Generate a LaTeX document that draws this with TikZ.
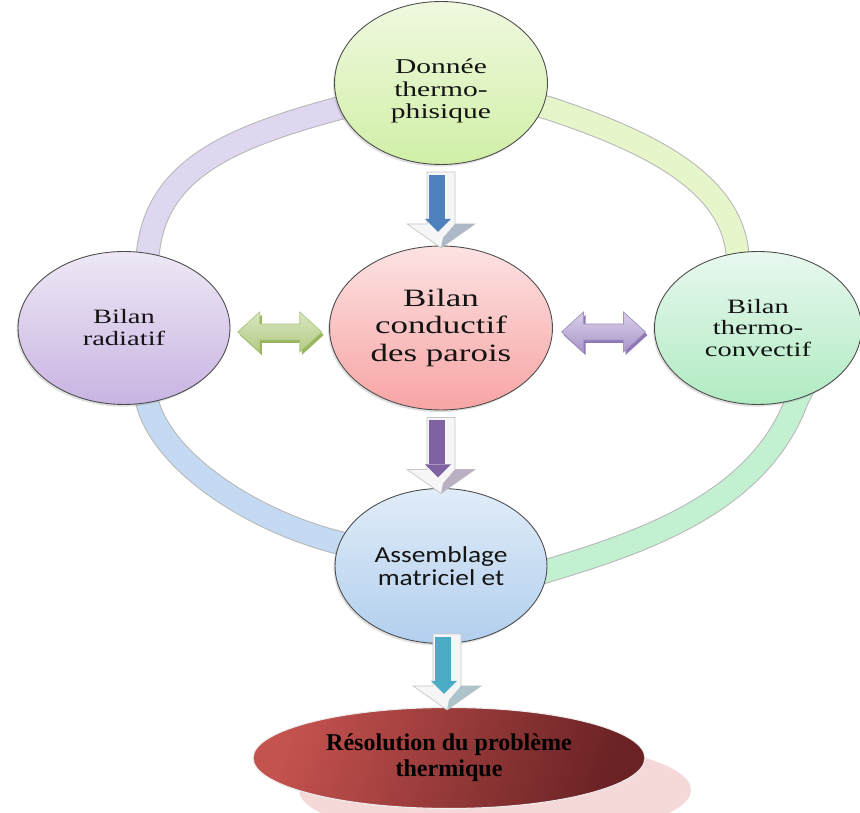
\documentclass[tikz,border=0pt]{standalone}
\usepackage{fontspec}
\setmainfont{Liberation Serif}
\newfontfamily\wideserif[FakeStretch=1.4]{Liberation Serif}
\newfontfamily\widesans[FakeStretch=1.2]{Carlito}
\usetikzlibrary{shapes.geometric,shadows,calc}

% fills of the bubbles
\definecolor{donA}{HTML}{F0F9E0}\definecolor{donB}{HTML}{D0EFA6}
\definecolor{conA}{HTML}{FDE2E2}\definecolor{conB}{HTML}{F8A4A4}
\definecolor{radA}{HTML}{EEE8F6}\definecolor{radB}{HTML}{C8B4E2}
\definecolor{cvA}{HTML}{E8F8EF}\definecolor{cvB}{HTML}{B0EBC2}
\definecolor{asA}{HTML}{E0ECF8}\definecolor{asB}{HTML}{B2CFEE}
\definecolor{resA}{HTML}{C4524F}\definecolor{resB}{HTML}{6A2224}
\definecolor{resShadow}{HTML}{F5D9D9}
% ring segments
\definecolor{ringTL}{HTML}{DFD6EF}\definecolor{ringTR}{HTML}{E6F6CA}
\definecolor{ringBL}{HTML}{C3DAF2}\definecolor{ringBR}{HTML}{C4F0D2}
% block arrows
\definecolor{blockblue}{HTML}{4F81BD}\definecolor{blockpurple}{HTML}{7F62A1}
\definecolor{blockteal}{HTML}{4BACC6}
\definecolor{dgA}{HTML}{D9E6C2}\definecolor{dgB}{HTML}{B3CB83}\definecolor{dgC}{HTML}{98B65C}
\definecolor{dpA}{HTML}{D8CFE7}\definecolor{dpB}{HTML}{AA97CB}\definecolor{dpC}{HTML}{8E78B5}
\definecolor{txt}{HTML}{141414}

\tikzset{
  bubble/.style={ellipse, draw=black!70, line width=0.5pt, inner sep=0pt,
    align=center, text=txt,
    drop shadow={opacity=0.25, shadow xshift=-0.8pt, shadow yshift=-1.2pt}},
  ringshade/.style={line width=13.6pt, draw=black!28},
  ringband/.style={line width=12.4pt},
  pics/downblock/.style={code={
    \filldraw[fill=white!93!gray, draw=black!22, line width=0.4pt]
      (-14,0) -- (14,0) -- (14,52) -- (34,52) -- (0,76) -- (-34,52) -- (-14,52) -- cycle;
    \fill[#1!45!gray!55] (14,52) -- (34,52) -- (0,76) -- (2,66) -- cycle;
    \fill[#1] (-12,3) rectangle (4,47);
    \fill[#1] (-16,47) -- (10,47) -- (-3,60) -- cycle;
  }},
  pics/dblock/.style n args={3}{code={
    \fill[#3] (-40,3) -- (-18,-17) -- (-18,-5) -- (22,-5) -- (22,-17) -- (44,3)
      -- (22,23) -- (22,11) -- (-18,11) -- (-18,23) -- cycle;
    \shadedraw[top color=#1, bottom color=#2, draw=#3!80, line width=0.4pt]
      (-42,0) -- (-20,-20) -- (-20,-8) -- (20,-8) -- (20,-20) -- (42,0)
      -- (20,20) -- (20,8) -- (-20,8) -- (-20,20) -- cycle;
  }}
}

\begin{document}
\begin{tikzpicture}[x=0.02cm,y=-0.02cm]
\useasboundingbox (0,0) rectangle (860,813);
\clip (0,0) rectangle (860,813);

% ring joining the four outer bubbles (ends hidden under the bubbles)
\def\arcTL{(362,102.5) -- (340,108) .. controls (228,138) and (157,170) .. (148,252) -- (145,272)}
\def\arcTR{(526,102.5) -- (548,108) .. controls (645,140) and (728,180) .. (737,250) -- (740,272)}
\def\arcBL{(142,385) -- (148,405) .. controls (166,465) and (255,522) .. (340,543) -- (362,549)}
\def\arcBR{(806,382) -- (797,400) .. controls (760,500) and (650,540) .. (550,570) -- (528,577)}
\draw[ringshade] \arcTL;  \draw[ringband,ringTL] \arcTL;
\draw[ringshade] \arcTR;  \draw[ringband,ringTR] \arcTR;
\draw[ringshade] \arcBL;  \draw[ringband,ringBL] \arcBL;
\draw[ringshade] \arcBR;  \draw[ringband,ringBR] \arcBR;

% bubbles
\node[bubble, top color=donA, bottom color=donB, minimum width=4.26cm, minimum height=3.26cm,
  font=\wideserif\fontsize{12}{12.6}\selectfont] (donnee) at (441,83)
  {\rule{0pt}{17.5pt}Donnée\\thermo-\\phisique};
\node[bubble, top color=conA, bottom color=conB, minimum width=4.46cm, minimum height=3.28cm,
  font=\wideserif\fontsize{14.2}{15.4}\selectfont] (cond) at (441,328) {Bilan\\conductif\\des parois};
\node[bubble, top color=radA, bottom color=radB, minimum width=4.24cm, minimum height=3.06cm,
  font=\wideserif\fontsize{11.6}{12.5}\selectfont] (radiatif) at (124,328) {Bilan\\radiatif};
\node[bubble, top color=cvA, bottom color=cvB, minimum width=4.14cm, minimum height=3.06cm,
  font=\wideserif\fontsize{11.6}{12.5}\selectfont] (convectif) at (758,328) {Bilan\\thermo-\\convectif};
\node[bubble, top color=asA, bottom color=asB, minimum width=4.24cm, minimum height=3.1cm,
  font=\widesans\fontsize{13}{12.8}\selectfont] (assemblage) at (441,566) {Assemblage\\matriciel et};

% final step with its soft shadow
\fill[resShadow] (495,790) ellipse [x radius=196, y radius=50];
\node[ellipse, inner sep=0pt, minimum width=7.84cm, minimum height=2.02cm,
  left color=resA, right color=resB, shading angle=70, draw=white!85!gray, line width=0.6pt,
  align=center, font=\bfseries\fontsize{13.7}{14.8}\selectfont, text=black]
  (resolution) at (449,758) {Résolution du problème\\thermique};

% block arrows between the steps
\pic at ($(donnee.south)+(0,7)$) {downblock=blockblue};
\pic at ($(cond.south)+(0,7)$) {downblock=blockpurple};
\pic at ($(assemblage.south)+(6,-10)$) {downblock=blockteal};
\pic at ($(radiatif.east)!0.5!(cond.west)+(0,4)$) {dblock={dgA}{dgB}{dgC}};
\pic at ($(cond.east)!0.5!(convectif.west)+(0,4)$) {dblock={dpA}{dpB}{dpC}};
\end{tikzpicture}
\end{document}
